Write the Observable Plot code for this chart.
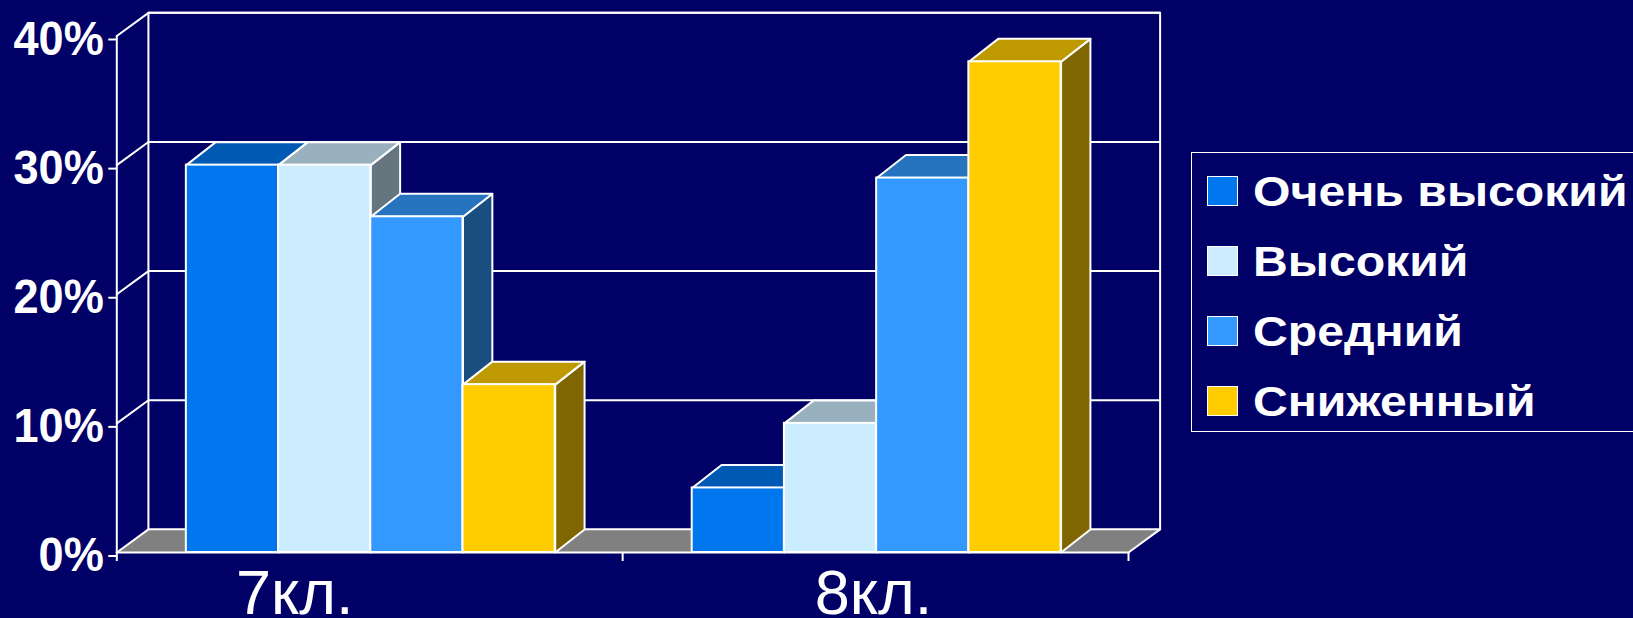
<!DOCTYPE html>
<html><head><meta charset="utf-8">
<script src="https://cdn.jsdelivr.net/npm/d3@7"></script>
<script src="https://cdn.jsdelivr.net/npm/@observablehq/plot@0.6"></script>
<style>
html,body{margin:0;padding:0;background:#000066;overflow:hidden}
#chart{position:absolute;left:0;top:0;width:1633px;height:618px}
#legend{position:absolute;left:1191px;top:152px;width:442px;height:280px;box-sizing:border-box;border:1.5px solid #fff;border-right:none;color:#fff;font:bold 43px "Liberation Sans",sans-serif}
.row{position:absolute;left:0;display:flex;align-items:center;height:32px;white-space:nowrap}
.sw{width:31px;height:30px;margin-left:15px;margin-right:15px;box-sizing:border-box;border:1.5px solid #fff;flex:none}
.lbl{display:inline-block;transform:scaleX(1.12);transform-origin:left center}
</style></head><body>
<div id="chart"></div><div id="legend"></div>
<script>
const categories = ["7кл.", "8кл."];
const seriesNames = ["Очень высокий", "Высокий", "Средний", "Сниженный"];
const veryHigh = [30, 5];
const high = [30, 10];
const medium = [26, 29];
const reduced = [13, 38];
const series = [veryHigh, high, medium, reduced];
const yTicks = [0, 10, 20, 30, 40];
const frontColors = ["#0077EE", "#CCECFF", "#3399FF", "#FFCC00"];
const topColors = ["#0059B3", "#99B1BF", "#2673BF", "#BF9900"];
const sideColors = ["#003C77", "#667680", "#1A4D80", "#806600"];

// oblique-projection constants, in data units
const wallDx = 0.0625, wallDy = 1.795, barDx = 0.058, barDy = 1.78;
const barW = 0.1823, barStart = 0.1375;

const poly = (pts, fill, stroke = "white") => Plot.line([...pts, pts[0]], {
  x: d => d[0], y: d => d[1], fill, stroke, strokeWidth: 2, strokeLinejoin: "round"
});
const seg = (pts) => Plot.line(pts, {x: d => d[0], y: d => d[1], stroke: "white", strokeWidth: 2});

const marks = [];
const yTop = yTicks[yTicks.length - 1];
const xMax = categories.length;
// floor
marks.push(poly([[0,0],[xMax,0],[xMax+wallDx,wallDy],[wallDx,wallDy]], "#808080", "none"));
// back wall and grid
for (const t of yTicks) {
  if (t > 0) marks.push(seg([[0,t],[wallDx,t+wallDy],[xMax+wallDx,t+wallDy]]));
}
marks.push(seg([[xMax,0],[xMax+wallDx,wallDy],[wallDx,wallDy],[0,0]]));
marks.push(seg([[wallDx,wallDy],[wallDx,yTop+wallDy],[xMax+wallDx,yTop+wallDy],[xMax+wallDx,wallDy]]));
marks.push(seg([[0,0],[0,yTop]]));
// bars, painted left to right
categories.forEach((c, ci) => {
  series.forEach((vals, si) => {
    const v = vals[ci];
    const x0 = ci + barStart + si * barW, x1 = x0 + barW;
    marks.push(poly([[x1,0],[x1+barDx,barDy],[x1+barDx,v+barDy],[x1,v]], sideColors[si]));
    marks.push(poly([[x0,v],[x1,v],[x1+barDx,v+barDy],[x0+barDx,v+barDy]], topColors[si]));
    marks.push(Plot.rect([{x0,x1,v}], {x1:"x0", x2:"x1", y1:0, y2:"v", fill: frontColors[si], stroke:"white", strokeWidth:2}));
  });
});
marks.push(seg([[0,0],[xMax,0]]));
// axes
marks.push(Plot.axisY({ticks: yTicks, tickFormat: d => d + "%", tickSize: 8, tickPadding: 5, label: null,
  fontSize: 48, fontWeight: "bold", dy: 3.5, stroke: "white", strokeWidth: 2, fill: "white", ariaLabel: "y-axis"}));
marks.push(Plot.axisX({ticks: d3.range(xMax + 1), tickFormat: () => "", tickSize: 9, label: null, stroke: "white", strokeWidth: 2}));
// category labels
[-75, -2].forEach((dx, i) => marks.push(Plot.text([categories[i]], {
  x: i + 0.5, y: 0, text: d => d, dx, dy: 41, fontSize: 63, fill: "white"
})));

const plot = Plot.plot({
  width: 1633, height: 618,
  marginLeft: 116.3, marginRight: 505, marginTop: 35.5, marginBottom: 66,
  x: {domain: [0, xMax]},
  y: {domain: [0, yTop]},
  style: {background: "#000066", color: "white", fontFamily: '"Liberation Sans", Arial, sans-serif', overflow: "visible"},
  marks
});
document.getElementById("chart").append(plot);

// narrow the y-axis labels horizontally about their anchor
plot.querySelectorAll('g[aria-label^="y-axis"] text').forEach(el => {
  const x = +el.getAttribute("x") || 0;
  const t = el.getAttribute("transform") || "";
  el.setAttribute("transform", `${t} translate(${x},0) scale(0.94,1) translate(${-x},0)`);
});

const legendBox = document.getElementById("legend");
const rowTops = [22, 92, 162, 232];
seriesNames.forEach((name, i) => {
  const r = document.createElement("div");
  r.className = "row"; r.style.top = rowTops[i] + "px";
  const s = document.createElement("span");
  s.className = "sw"; s.style.background = frontColors[i];
  const t = document.createElement("span"); t.className = "lbl"; t.textContent = name;
  r.append(s, t); legendBox.append(r);
});
</script></body></html>
